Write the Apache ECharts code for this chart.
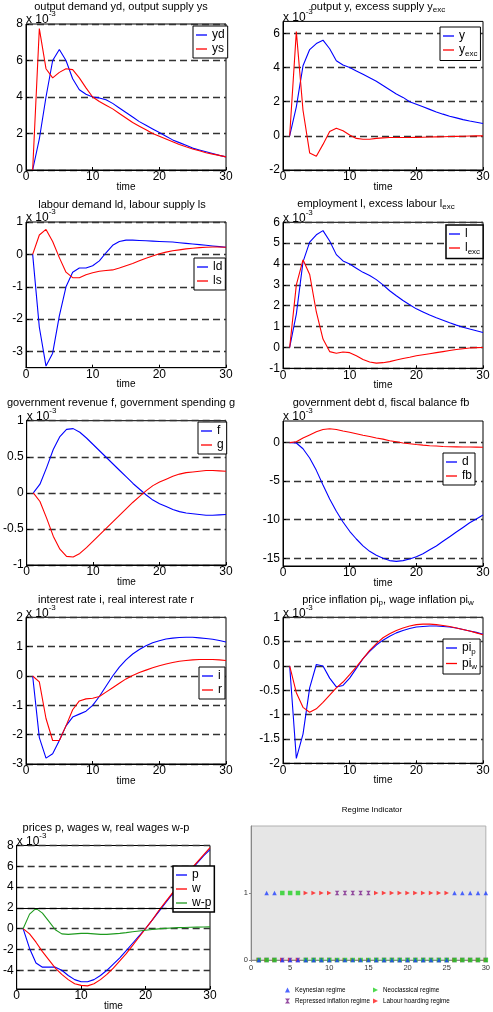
<!DOCTYPE html>
<html><head><meta charset="utf-8">
<script src="https://cdn.jsdelivr.net/npm/echarts@6/dist/echarts.min.js"></script>
<style>html,body{margin:0;padding:0;background:#fff}#c{width:493px;height:1012px}</style>
</head><body><div id="c"></div><script>
// ---------- DATA (values in units of 10^-3) ----------
const time = [1,2,3,4,5,6,7,8,9,10,11,12,13,14,15,16,17,18,19,20,21,22,23,24,25,26,27,28,29,30];
const yd = [0,1.7,4.0,6.0,6.6,6.0,5.0,4.4,4.15,4.0,3.95,3.85,3.65,3.4,3.15,2.9,2.65,2.45,2.25,2.05,1.85,1.65,1.5,1.35,1.2,1.1,1.0,0.9,0.8,0.72];
const ys = [0,7.75,5.55,5.05,5.35,5.55,5.5,5.05,4.5,4.0,3.75,3.55,3.35,3.1,2.85,2.6,2.4,2.2,2.0,1.85,1.7,1.55,1.4,1.27,1.15,1.05,0.95,0.87,0.8,0.72];
const yOut = [0,1.7,4.1,5.05,5.4,5.6,5.1,4.4,4.15,4.0,3.8,3.6,3.4,3.2,2.95,2.7,2.45,2.25,2.0,1.85,1.7,1.55,1.4,1.27,1.15,1.05,0.95,0.87,0.8,0.72];
const yExc = [0,6.1,1.5,-1.0,-1.2,-0.5,0.25,0.45,0.3,0.05,-0.15,-0.2,-0.2,-0.15,-0.12,-0.1,-0.1,-0.1,-0.1,-0.09,-0.08,-0.07,-0.06,-0.05,-0.04,-0.03,-0.02,-0.01,0,0];
const ld = [0,-2.25,-3.45,-3.05,-1.9,-1.0,-0.55,-0.42,-0.42,-0.35,-0.2,0.05,0.28,0.4,0.44,0.44,0.43,0.42,0.41,0.4,0.39,0.38,0.36,0.34,0.32,0.3,0.28,0.26,0.24,0.22];
const ls = [0,0.6,0.77,0.4,-0.1,-0.55,-0.72,-0.72,-0.63,-0.57,-0.52,-0.5,-0.48,-0.42,-0.35,-0.28,-0.2,-0.12,-0.05,0.02,0.07,0.11,0.14,0.17,0.19,0.21,0.22,0.23,0.23,0.22];
const lEmp = [0,1.6,4.1,5.05,5.4,5.6,5.1,4.45,4.15,4.0,3.8,3.6,3.45,3.25,3.0,2.72,2.48,2.25,2.05,1.85,1.7,1.55,1.42,1.3,1.18,1.07,0.97,0.88,0.8,0.72];
const lExc = [0,3.0,4.2,3.5,1.7,0.4,-0.2,-0.28,-0.22,-0.25,-0.4,-0.58,-0.7,-0.75,-0.73,-0.68,-0.6,-0.53,-0.47,-0.4,-0.35,-0.3,-0.25,-0.2,-0.15,-0.1,-0.06,-0.03,-0.01,0];
const fRev = [0,0.12,0.35,0.6,0.78,0.88,0.89,0.84,0.76,0.67,0.58,0.49,0.4,0.31,0.22,0.13,0.05,-0.03,-0.1,-0.15,-0.19,-0.23,-0.26,-0.28,-0.29,-0.3,-0.31,-0.31,-0.305,-0.3];
const gSpend = [0,-0.12,-0.35,-0.6,-0.78,-0.88,-0.89,-0.84,-0.76,-0.67,-0.58,-0.49,-0.4,-0.31,-0.22,-0.13,-0.05,0.03,0.1,0.15,0.19,0.23,0.26,0.28,0.29,0.3,0.31,0.31,0.305,0.3];
const debt = [0,-0.05,-0.8,-2.0,-3.6,-5.5,-7.3,-8.9,-10.3,-11.5,-12.5,-13.4,-14.1,-14.6,-15.0,-15.3,-15.4,-15.3,-15.1,-14.8,-14.4,-13.9,-13.4,-12.8,-12.2,-11.6,-11.0,-10.4,-9.9,-9.4];
const fb = [0,0.1,0.6,1.0,1.4,1.7,1.8,1.7,1.5,1.35,1.15,0.95,0.8,0.6,0.45,0.25,0.1,-0.05,-0.15,-0.25,-0.33,-0.4,-0.45,-0.5,-0.53,-0.55,-0.57,-0.58,-0.59,-0.6];
const iRate = [0,-2.1,-2.8,-2.65,-2.2,-1.7,-1.4,-1.3,-1.2,-1.0,-0.7,-0.35,0.0,0.3,0.55,0.75,0.9,1.03,1.13,1.2,1.26,1.29,1.31,1.32,1.32,1.3,1.28,1.25,1.21,1.16];
const rRate = [0,-0.2,-1.45,-2.2,-2.2,-1.7,-1.15,-0.85,-0.78,-0.76,-0.7,-0.55,-0.4,-0.25,-0.1,0.02,0.12,0.2,0.28,0.35,0.41,0.46,0.5,0.53,0.55,0.56,0.56,0.56,0.55,0.53];
const piP = [0,-1.9,-1.4,-0.45,0.03,0.0,-0.25,-0.43,-0.4,-0.25,-0.05,0.15,0.3,0.43,0.53,0.61,0.68,0.73,0.77,0.8,0.81,0.82,0.82,0.81,0.8,0.78,0.75,0.72,0.69,0.65];
const piW = [0,-0.55,-0.85,-0.95,-0.88,-0.75,-0.6,-0.45,-0.33,-0.18,-0.02,0.15,0.32,0.46,0.58,0.66,0.73,0.78,0.82,0.85,0.86,0.86,0.85,0.83,0.81,0.78,0.75,0.72,0.68,0.64];
const pPrice = [0,-1.9,-3.3,-3.7,-3.7,-3.7,-4.0,-4.5,-4.9,-5.1,-5.1,-4.9,-4.5,-4.0,-3.4,-2.8,-2.1,-1.4,-0.7,0.0,0.8,1.6,2.4,3.2,4.0,4.8,5.6,6.3,7.0,7.6];
const wWage = [0,-0.5,-1.3,-2.2,-3.0,-3.8,-4.4,-4.9,-5.3,-5.45,-5.5,-5.3,-4.9,-4.4,-3.8,-3.1,-2.4,-1.6,-0.8,0.0,0.8,1.7,2.5,3.3,4.1,4.9,5.7,6.4,7.1,7.8];
const realWage = [0,1.4,1.95,1.5,0.7,-0.1,-0.5,-0.55,-0.5,-0.45,-0.45,-0.5,-0.55,-0.55,-0.5,-0.45,-0.38,-0.3,-0.22,-0.15,-0.08,-0.02,0.03,0.07,0.1,0.12,0.14,0.15,0.16,0.17];
// Regime indicator (1 = active)
const keynesian   = [0,1,1,0,0,0,0,0,0,0,0,0,0,0,0,0,0,0,0,0,0,0,0,0,0,1,1,1,1,1];
const neoclassical= [0,0,0,1,1,1,0,0,0,0,0,0,0,0,0,0,0,0,0,0,0,0,0,0,0,0,0,0,0,0];
const repressed   = [0,0,0,0,0,0,0,0,0,0,1,1,1,1,1,0,0,0,0,0,0,0,0,0,0,0,0,0,0,0];
const labourHoard = [0,0,0,0,0,0,1,1,1,1,0,0,0,0,0,1,1,1,1,1,1,1,1,1,1,0,0,0,0,0];

// ---------- STYLE ----------
const FONT = '"Liberation Sans", Arial, Helvetica, sans-serif';
const BLUE = '#0000ff', RED = '#ff0000', GREEN = '#1e9a1e';
const subRich = {
  sub: {fontSize: 8, fontFamily: FONT, color: '#000', padding: [7, 0, 0, 0]},
  sup: {fontSize: 8, fontFamily: FONT, color: '#000', padding: [0, 0, 7, 0]},
  n: {fontSize: 12, fontFamily: FONT, color: '#000'},
  t: {fontSize: 11, fontFamily: FONT, color: '#000'}
};
const nameRich = {
  n: {fontSize: 12, fontFamily: FONT, color: '#000', lineHeight: 16, verticalAlign: 'bottom'},
  sup: {fontSize: 8, fontFamily: FONT, color: '#000', lineHeight: 16, verticalAlign: 'top'}
};
const legendNames = {
  'y_exc': '{n|y}{sub|exc}', 'l_exc': '{n|l}{sub|exc}',
  'pi_p': '{n|pi}{sub|p}', 'pi_w': '{n|pi}{sub|w}'
};

const panels = [
  {rect:[26,24,200,146], y:[0,8], ticks:[0,2,4,6,8], lines:[['yd',yd,BLUE],['ys',ys,RED]], lg:[193,26], title:'{t|output demand yd, output supply ys}', tc:[121,1]},
  {rect:[283,21.4,200,148.6], y:[-2,6.7], ticks:[-2,0,2,4,6], lines:[['y',yOut,BLUE],['y_exc',yExc,RED]], lg:[440,27], title:'{t|output y, excess supply y}{sub|exc}', tc:[378,-1]},
  {rect:[26,222,200,145.7], y:[-3.5,1], ticks:[-3,-2,-1,0,1], lines:[['ld',ld,BLUE],['ls',ls,RED]], lg:[194,258], title:'{t|labour demand ld, labour supply ls}', tc:[122,199]},
  {rect:[283,222.3,200,146], y:[-1,6], ticks:[-1,0,1,2,3,4,5,6], lines:[['l',lEmp,BLUE],['l_exc',lExc,RED]], lg:[446,225], title:'{t|employment l, excess labour l}{sub|exc}', tc:[376,196]},
  {rect:[26,420.7,200,144.3], y:[-1,1], ticks:[-1,-0.5,0,0.5,1], lines:[['f',fRev,BLUE],['g',gSpend,RED]], lg:[198,422], title:'{t|government revenue f, government spending g}', tc:[121,397]},
  {rect:[283,421,200,145], y:[-16,2.8], ticks:[-15,-10,-5,0], lines:[['d',debt,BLUE],['fb',fb,RED]], lg:[443,453], title:'{t|government debt d, fiscal balance fb}', tc:[381,397]},
  {rect:[26,617.3,200,146.7], y:[-3,2], ticks:[-3,-2,-1,0,1,2], lines:[['i',iRate,BLUE],['r',rRate,RED]], lg:[199,667], title:'{t|interest rate i, real interest rate r}', tc:[116,594]},
  {rect:[283,617.3,200,146], y:[-2,1], ticks:[-2,-1.5,-1,-0.5,0,0.5,1], lines:[['pi_p',piP,BLUE],['pi_w',piW,RED]], lg:[443,639], title:'{t|price inflation pi}{sub|p}{t|, wage inflation pi}{sub|w}', tc:[388,592]},
  {rect:[11,845.5,199,144.5], y:[-5.8,8], ticks:[-4,-2,0,2,4,6,8], lines:[['p',pPrice,BLUE],['w',wWage,RED],['w-p',realWage,GREEN]], lg:[173,866], title:'{t|prices p, wages w, real wages w-p}', tc:[106,822], solid2:true}
];

const grid = [], xAxis = [], yAxis = [], series = [], legend = [], title = [];
panels.forEach((p, k) => {
  grid.push({left:p.rect[0], top:p.rect[1], width:p.rect[2], height:p.rect[3], show:true, borderColor:'#000', borderWidth:1, backgroundColor:'#fff'});
  xAxis.push({type:'value', gridIndex:k, min:0, max:30, interval:10,
    name:'time', nameLocation:'middle', nameGap:12, nameMoveOverlap:false, nameTextStyle:{fontSize:10, fontFamily:FONT, color:'#000'},
    axisLine:{show:true, onZero:false, lineStyle:{color:'#000', width:1}},
    axisTick:{inside:true, length:3, lineStyle:{color:'#000'}},
    axisLabel:{fontSize:12, fontFamily:FONT, color:'#000', margin:1},
    splitLine:{show:false}});
  yAxis.push({type:'value', gridIndex:k, min:p.y[0], max:p.y[1],
    name:'{n|x 10}{sup|-3}', nameLocation:'end', nameGap:-2, nameMoveOverlap:false,
    nameTextStyle:{align:'left', verticalAlign:'bottom', rich:nameRich},
    axisLine:{show:true, onZero:false, lineStyle:{color:'#000', width:1}},
    axisTick:{inside:true, length:3, customValues:p.ticks, lineStyle:{color:'#000'}},
    axisLabel:{fontSize:12, fontFamily:FONT, color:'#000', margin:3, customValues:p.ticks},
    splitLine:{show:true, lineStyle:{color:'#333', type:[7,4], width:1.3}}});
  const names = [];
  p.lines.forEach(([name, vals, color], j) => {
    const s = {type:'line', name:name, xAxisIndex:k, yAxisIndex:k, symbol:'none', silent:true,
      lineStyle:{color:color, width:1.1}, itemStyle:{color:color},
      data: time.map((t, i) => [t, vals[i]]), z:3};
    if (p.solid2 && j === 0) {
      s.markLine = {silent:true, symbol:'none', label:{show:false}, lineStyle:{color:'#000', type:'solid', width:1}, data:[{yAxis:2}]};
    }
    series.push(s);
    names.push(name);
  });
  legend.push({data:names, left:p.lg[0], top:p.lg[1], orient:'vertical', itemGap:2, itemWidth:11, itemHeight:1.3,
    icon:'rect', itemTextGap:3,
    padding:[3,3,3,3], backgroundColor:'#fff', borderColor:'#000', borderWidth: (k===8||k===3)?1.5:1, borderRadius:0,
    selectedMode:false, textStyle:{fontSize:12, fontFamily:FONT, color:'#000', rich:subRich},
    formatter: n => legendNames[n] || ('{n|' + n + '}')});
  title.push({text:p.title, left:p.tc[0], top:p.tc[1], textAlign:'center', textStyle:{rich:subRich, fontSize:11, fontFamily:FONT, color:'#000', fontWeight:'normal'}, padding:0});
});

// Regime indicator panel
const rk = panels.length;
grid.push({left:251, top:826, width:236, height:134, show:true, backgroundColor:'#e6e6e6', borderColor:'#b0b0b0', borderWidth:1});
xAxis.push({type:'value', gridIndex:rk, min:0, max:30, interval:5,
  axisLine:{show:true, onZero:false, lineStyle:{color:'#888'}}, axisTick:{show:true, length:2, lineStyle:{color:'#888'}},
  axisLabel:{fontSize:7.5, fontFamily:FONT, color:'#333', margin:4}, splitLine:{show:false}});
yAxis.push({type:'value', gridIndex:rk, min:0, max:2,
  axisLine:{show:true, onZero:false, lineStyle:{color:'#888'}}, axisTick:{show:true, length:2, customValues:[0,1], lineStyle:{color:'#888'}},
  axisLabel:{fontSize:7.5, fontFamily:FONT, color:'#333', margin:3, customValues:[0,1]}, splitLine:{show:false}});
const hourglass = 'path://M0,0 L10,0 L6,5 L10,10 L0,10 L4,5 Z';
const rightTri = 'path://M0,0 L10,5 L0,10 Z';
const regimes = [
  ['Labour hoarding regime', labourHoard, '#ff1a1a', rightTri],
  ['Repressed inflation regime', repressed, '#7a1f8a', hourglass],
  ['Neoclassical regime', neoclassical, '#22d022', 'rect'],
  ['Keynesian regime', keynesian, '#2040ff', 'triangle']
];
regimes.forEach(([name, vals, color, sym]) => {
  series.push({type:'scatter', name:name, xAxisIndex:rk, yAxisIndex:rk, symbol:sym, symbolSize:4.5,
    itemStyle:{color:color}, silent:true, data: time.map((t, i) => [t, vals[i]])});
});
const regLegendPos = [['Keynesian regime',285,987,'triangle'],['Neoclassical regime',373,987,rightTri],['Repressed inflation regime',285,998,hourglass],['Labour hoarding regime',373,998,rightTri]];
regLegendPos.forEach(([n, x, y, ic]) => {
  legend.push({data:[{name:n, icon:ic}], left:x, top:y, itemWidth:5, itemHeight:5, itemGap:0, itemTextGap:1, padding:0, selectedMode:false,
    textStyle:{fontSize:6.3, fontFamily:FONT, color:'#000'}});
});
title.push({text:'Regime Indicator', left:372, top:806, textAlign:'center', padding:0,
  textStyle:{fontSize:8, fontFamily:FONT, color:'#000', fontWeight:'normal'}});

const chart = echarts.init(document.getElementById('c'), null, {renderer:'canvas'});
chart.setOption({animation:false, backgroundColor:'#fff', grid, xAxis, yAxis, series, legend, title});
</script></body></html>
